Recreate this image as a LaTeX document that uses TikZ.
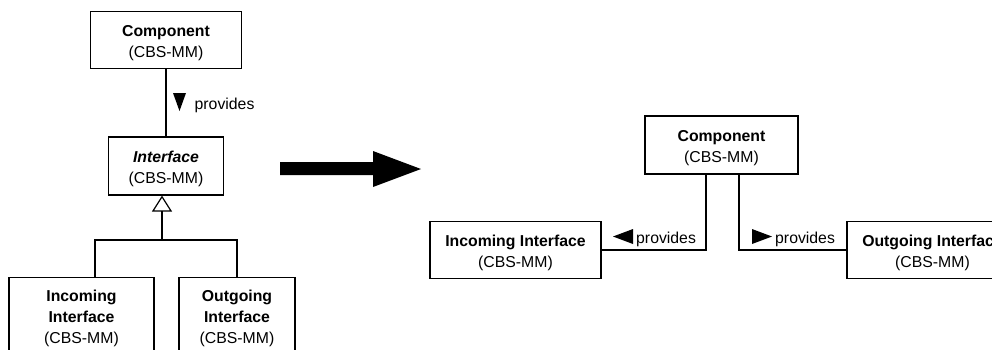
\documentclass[tikz,border=0pt]{standalone}
\usepackage{fontspec}
\setmainfont{Liberation Sans}
\usetikzlibrary{arrows.meta}
% taller first line so the two-line captions sit a little low in their boxes
\newcommand\capstrut{\rule{0pt}{17.5pt}}
\begin{document}
\begin{tikzpicture}[x=1pt,y=-1pt,
  every node/.style={font=\fontsize{15.8}{21}\selectfont},
  box/.style={draw, line width=1.2pt, align=center, inner sep=0pt},
  caption/.style={align=center, inner sep=0pt, anchor=north},
  link/.style={line width=1.2pt},
  glyph/.style={fill=black},
  role/.style={anchor=base west, inner sep=0pt}]
\clip (0,0) rectangle (992,349);

% ---- metamodel hierarchy (left) ----
\node[box, minimum width=151, minimum height=57] (comp) at (166,40)
  {\capstrut\textbf{Component}\\(CBS-MM)};
\node[box, minimum width=115, minimum height=58] (iface) at (166,166)
  {\capstrut\textbf{\textit{Interface}}\\(CBS-MM)};
\node[box, minimum width=145, minimum height=110, anchor=north] (inc) at (81.5,277) {};
\node[caption] (inctext) at (81.5,283.5)
  {\capstrut\textbf{Incoming}\\\textbf{Interface}\\(CBS-MM)};
\node[box, minimum width=116, minimum height=110, anchor=north] (outg) at (237,277) {};
\node[caption] (outgtext) at (237,283.5)
  {\capstrut\textbf{Outgoing}\\\textbf{Interface}\\(CBS-MM)};

\draw[link] (comp.south) -- (iface.north);
\fill[glyph] (173,93) -- (186,93) -- (179.5,111) -- cycle;
\node[role] (prov1) at (194.5,109) {provides};

\coordinate (trunk) at (162,240);
\coordinate (brL) at (95,0);
\draw[link, -{Triangle[open, length=16pt, width=20pt, line width=1.2pt]}]
  (trunk) -- (trunk |- iface.south);
\draw[link] (brL |- inc.north) -- (brL |- trunk) -| (outg.north);

% ---- transformation arrow ----
\fill (280,162) -- (373,162) -- (373,151) -- (421,169) -- (373,187)
  -- (373,175) -- (280,175) -- cycle;

% ---- refined model (right) ----
\node[box, minimum width=153, minimum height=58] (rcomp) at (721.5,145)
  {\capstrut\textbf{Component}\\(CBS-MM)};
\node[box, minimum width=171, minimum height=57] (rinc) at (515.5,250)
  {\capstrut\textbf{Incoming Interface}\\(CBS-MM)};
\node[box, minimum width=171, minimum height=57] (rout) at (932.5,250)
  {\capstrut\textbf{Outgoing Interface}\\(CBS-MM)};

\coordinate (lx) at (706,0);
\coordinate (rx) at (739,0);
\draw[link] (lx |- rcomp.south) |- (rinc.east);
\draw[link] (rx |- rcomp.south) |- (rout.west);

\fill[glyph] (633,229) -- (633,244) -- (613,236.5) -- cycle;
\node[role] (prov2) at (636,243) {provides};
\fill[glyph] (752,229) -- (752,244) -- (772,236.5) -- cycle;
\node[role] (prov3) at (775,243) {provides};
\end{tikzpicture}
\end{document}
